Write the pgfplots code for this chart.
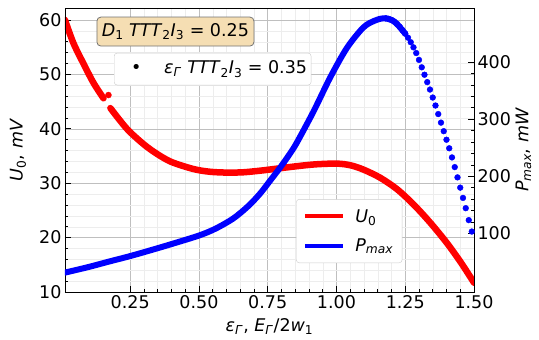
\documentclass[border=0pt]{standalone}
\usepackage{fontspec}
\setmainfont{DejaVu Sans}
\usepackage{pgfplots}
\pgfplotsset{compat=1.18}
\usetikzlibrary{calc}
\definecolor{wheatc}{RGB}{245,222,179}
\newcommand{\fs}{\fontsize{17.5}{20}\selectfont}
\begin{document}
\begin{tikzpicture}
\pgfplotsset{
  base/.style={
    scale only axis, width=409pt, height=284pt,
    xmin=0.013, xmax=1.5,
    xtick={0.25,0.5,0.75,1.0,1.25,1.5},
    xticklabels={0.25,0.50,0.75,1.00,1.25,1.50},
    minor x tick num=4,
    tick align=inside,
    major tick length=6pt, minor tick length=3pt,
    tick style={black, line width=0.6pt},
    tick label style={font=\fs},
    label style={font=\fs},
    /pgf/number format/assume math mode=true,
    axis line style={black, line width=0.8pt},
  },
}
\begin{axis}[base, name=main,
  ymin=10, ymax=62.2,
  ytick={10,20,30,40,50,60},
  minor y tick num=4,
  xtick pos=bottom, ytick pos=left,
  grid=both,
  major grid style={gray!50, line width=0.5pt},
  minor grid style={gray!14, line width=0.4pt},
  xlabel={\textit{ε}\textsubscript{\textit{Γ}}, \textit{E}\textsubscript{\textit{Γ}}/2\textit{w}\textsubscript{1}},
  ylabel={\textit{U}\textsubscript{0}, \textit{mV}},
  x label style={at={(axis description cs:0.5,-0.123)}, anchor=center},
  y label style={at={(axis description cs:-0.115,0.5)}, anchor=center},
]
\addplot[red, line width=6.5pt, smooth, line join=round, line cap=round, forget plot] coordinates {
(0.013,60.0) (0.044,55.7) (0.086,51.4) (0.117,48.4) (0.153,45.6)
};
\addplot[red, line width=6.5pt, smooth, line join=round, line cap=round, forget plot] coordinates {
(0.178,43.8) (0.238,40.0) (0.298,37.2) (0.347,35.4) (0.40,33.9) (0.48,32.6)
(0.54,32.1) (0.60,31.95) (0.66,32.0) (0.723,32.3) (0.78,32.65) (0.844,33.05)
(0.92,33.45) (1.0,33.6) (1.05,33.3) (1.098,32.5) (1.159,31.0) (1.22,28.9)
(1.28,26.1) (1.34,22.8) (1.40,19.1) (1.45,15.6) (1.49,12.5) (1.5,11.7)
};
\addplot[only marks, mark=*, mark size=3pt, red, forget plot] coordinates {(0.171,46.2)};
\end{axis}
\begin{axis}[base,
  ymin=-3, ymax=495,
  ytick={100,200,300,400},
  minor y tick num=4,
  xtick=\empty, minor x tick num=0,
  ytick pos=right, yticklabel pos=right,
  ylabel={\textit{P}\textsubscript{\textit{max}}, \textit{mW}},
  y label style={at={(axis description cs:1.121,0.5)}, anchor=center},
  legend style={at={(axis description cs:0.565,0.102)}, anchor=south west,
    draw=black!20, fill=white, rounded corners=3pt, font=\fs,
    inner xsep=7pt, inner ysep=8pt, row sep=11pt, cells={anchor=west},
    /tikz/every odd column/.append style={column sep=8pt}},
  legend image code/.code={\draw[#1] (0pt,0pt) -- (38pt,0pt);},
]
\addplot[blue, line width=6pt, smooth, line join=round, line cap=round, forget plot] coordinates {
(0.013,31) (0.10,41) (0.17,50) (0.25,60) (0.33,71) (0.40,81) (0.50,96)
(0.56,108) (0.625,126) (0.68,148) (0.723,170) (0.76,193) (0.795,215)
(0.83,239) (0.856,259) (0.917,314) (0.977,373) (1.038,425) (1.098,461)
(1.14,473) (1.171,477) (1.20,474) (1.22,467) (1.25,450)
};
\addplot[only marks, mark=*, mark size=2.9pt, blue, forget plot] coordinates {
(1.18,477)(1.19,476)(1.20,474)(1.21,471)(1.22,467)(1.23,462)(1.24,456)(1.25,450)
(1.26,443)(1.27,435)(1.28,426)(1.29,416)(1.30,404)(1.31,391)(1.32,378)(1.33,365)
(1.34,352)(1.35,338)(1.36,324)(1.37,309)(1.38,294)(1.39,279)(1.40,264)(1.41,249)
(1.42,233)(1.43,216)(1.44,198)(1.45,180)(1.46,162)(1.47,144)(1.481,123)(1.492,103)
};
\addlegendimage{red, line width=4pt}
\addlegendentry{\textit{U}\textsubscript{0}}
\addlegendimage{blue, line width=4pt}
\addlegendentry{\textit{P}\textsubscript{\textit{max}}}
\node[draw=black!55, fill=wheatc, rounded corners=4pt, line width=0.8pt,
  inner xsep=5pt, inner ysep=3pt, minimum height=29pt, font=\fs]
  at (axis description cs:0.270,0.917)
  {\textit{D}\textsubscript{1} \textit{TTT}\textsubscript{2}\textit{I}\textsubscript{3} = 0.25};
\node[draw=black!20, fill=white, rounded corners=3pt, inner xsep=4pt,
  minimum height=32pt, font=\fs]
  at (axis description cs:0.361,0.785)
  {\makebox[36pt]{•}\hspace{10pt}\textit{ε}\textsubscript{\textit{Γ}} \textit{TTT}\textsubscript{2}\textit{I}\textsubscript{3} = 0.35};
\end{axis}
\path ($(main.south west)+(-65pt,-48pt)$) rectangle ($(main.north east)+(65pt,8pt)$);
\end{tikzpicture}
\end{document}
